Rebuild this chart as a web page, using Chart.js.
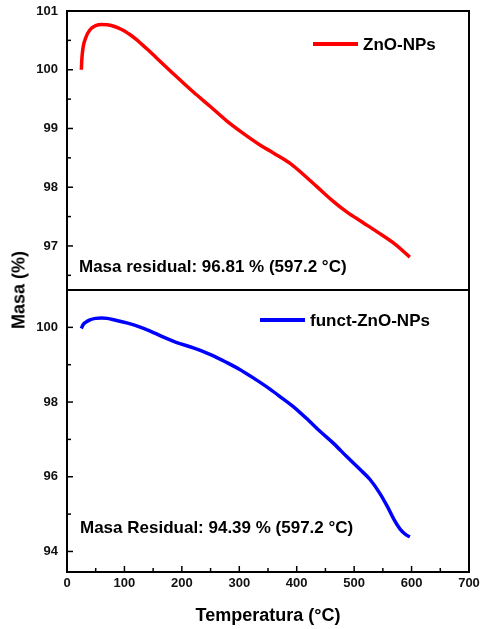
<!DOCTYPE html>
<html>
<head>
  <title>TGA ZnO-NPs</title>
  <script src="https://cdn.jsdelivr.net/npm/chart.js"></script>
  <style>
    body { margin: 0; background: #fff; }
    #wrap { position: relative; width: 481px; height: 629px; }
    canvas { position: absolute; left: 0; }
    #top { top: 0; }
    #bottom { top: 290px; }
    #ytitle {
      position: absolute; left: 19px; top: 290px;
      transform: translate(-50%, -50%) rotate(-90deg);
      font: bold 18px "Liberation Sans", Arial, sans-serif;
      white-space: nowrap; color: #000;
    }
  </style>
</head>
<body>
<div id="wrap">
  <canvas id="top" width="481" height="290"></canvas>
  <canvas id="bottom" width="481" height="339"></canvas>
  <div id="ytitle">Masa (%)</div>
</div>

<script>
  // ZnO-NPs (panel de arriba)
  const tempZnO = [25, 26, 28, 32, 40, 50, 60, 70, 80, 90, 100, 110, 120, 130, 140, 155, 180, 220, 250, 278, 305, 336, 360, 388, 410, 435, 460, 487, 515, 540, 570, 597];
  const masaZnO = [100.0, 100.2, 100.38, 100.53, 100.68, 100.75, 100.77, 100.765, 100.745, 100.71, 100.66, 100.595, 100.52, 100.435, 100.35, 100.21, 99.98, 99.62, 99.37, 99.13, 98.93, 98.72, 98.58, 98.41, 98.23, 98.01, 97.79, 97.58, 97.4, 97.24, 97.04, 96.81];

  // funct-ZnO-NPs (panel de abajo)
  const tempFunct = [25, 28, 33, 40, 50, 60, 70, 85, 104, 125, 145, 165, 190, 220, 250, 278, 300, 325, 354, 375, 394, 420, 441, 465, 487, 510, 528, 545, 558, 570, 580, 590, 597];
  const masaFunct = [99.97, 100.07, 100.14, 100.2, 100.24, 100.25, 100.24, 100.19, 100.12, 100.02, 99.9, 99.76, 99.6, 99.45, 99.27, 99.06, 98.88, 98.64, 98.34, 98.1, 97.88, 97.52, 97.21, 96.88, 96.54, 96.2, 95.92, 95.55, 95.2, 94.84, 94.6, 94.45, 94.39];

  const xTicks = [0, 100, 200, 300, 400, 500, 600, 700];
  const xMinor = [50, 150, 250, 350, 450, 550, 650];
  const yTicksTop = [97, 98, 99, 100, 101];
  const yMinorTop = [96.5, 97.5, 98.5, 99.5, 100.5];
  const yTicksBottom = [94, 96, 98, 100];
  const yMinorBottom = [95, 97, 99];

  Chart.defaults.font.family = '"Liberation Sans", Arial, sans-serif';
  Chart.defaults.color = '#000';

  const toPoints = (xs, ys) => xs.map((x, i) => ({ x: x, y: ys[i] }));

  function tickMarks(ctx, scale, values, len, area, horizontal) {
    values.forEach(v => {
      const p = scale.getPixelForValue(v);
      ctx.beginPath();
      if (horizontal) {
        ctx.moveTo(p, area.bottom);
        ctx.lineTo(p, area.bottom - len);
      } else {
        ctx.moveTo(area.left, p);
        ctx.lineTo(area.left + len, p);
      }
      ctx.stroke();
    });
  }

  // y axis: fixed width, and no extra vertical room for the labels
  function fitY(s) {
    s.width = 67;
    s.paddingTop = 0;
    s.paddingBottom = 0;
  }

  // marco, marcas hacia dentro, leyenda y texto de masa residual
  const framePlugin = {
    id: 'frame',
    afterDraw(chart, args, opts) {
      const ctx = chart.ctx;
      const a = chart.chartArea;
      ctx.save();
      ctx.strokeStyle = '#000';
      ctx.lineWidth = 2;
      ctx.strokeRect(a.left, a.top, a.right - a.left, a.bottom - a.top);

      ctx.lineWidth = 1.5;
      tickMarks(ctx, chart.scales.y, opts.yMajor, 6, a, false);
      tickMarks(ctx, chart.scales.y, opts.yMinor, 4, a, false);
      if (opts.xTicks) {
        tickMarks(ctx, chart.scales.x, xTicks, 6, a, true);
        tickMarks(ctx, chart.scales.x, xMinor, 4, a, true);
      }

      const ds = chart.data.datasets[0];
      ctx.strokeStyle = ds.borderColor;
      ctx.lineWidth = 4;
      ctx.beginPath();
      ctx.moveTo(opts.legendX, opts.legendY);
      ctx.lineTo(opts.legendX + 45, opts.legendY);
      ctx.stroke();

      ctx.fillStyle = '#000';
      ctx.font = 'bold 17px "Liberation Sans", Arial, sans-serif';
      ctx.textBaseline = 'middle';
      ctx.textAlign = 'left';
      ctx.fillText(ds.label, opts.legendX + 50, opts.legendY + 1);
      ctx.fillText(opts.note, opts.noteX, opts.noteY);
      ctx.restore();
    }
  };

  const tickFont = { size: 13, weight: 'bold' };

  new Chart(document.getElementById('top'), {
    type: 'line',
    data: {
      datasets: [{
        label: 'ZnO-NPs',
        data: toPoints(tempZnO, masaZnO),
        borderColor: '#ff0000',
        borderWidth: 3.5,
        pointRadius: 0,
        cubicInterpolationMode: 'monotone',
        fill: false
      }]
    },
    options: {
      responsive: false,
      animation: false,
      layout: { padding: { top: 11, right: 12, bottom: 0, left: 0 } },
      plugins: {
        legend: { display: false },
        tooltip: { enabled: false },
        frame: {
          yMajor: yTicksTop, yMinor: yMinorTop, xTicks: false,
          legendX: 313, legendY: 44,
          note: 'Masa residual: 96.81 % (597.2 °C)', noteX: 79, noteY: 267
        }
      },
      scales: {
        x: { type: 'linear', min: 0, max: 700, display: false },
        y: {
          min: 96.25, max: 101,
          afterBuildTicks: s => { s.ticks = yTicksTop.map(v => ({ value: v })); },
          afterFit: fitY,
          grid: { display: false, drawTicks: false },
          border: { display: false },
          ticks: { padding: 9, font: tickFont, color: '#111' }
        }
      }
    },
    plugins: [framePlugin]
  });

  new Chart(document.getElementById('bottom'), {
    type: 'line',
    data: {
      datasets: [{
        label: 'funct-ZnO-NPs',
        data: toPoints(tempFunct, masaFunct),
        borderColor: '#0000ff',
        borderWidth: 3.5,
        pointRadius: 0,
        cubicInterpolationMode: 'monotone',
        fill: false
      }]
    },
    options: {
      responsive: false,
      animation: false,
      layout: { padding: { top: 0, right: 12, bottom: 0, left: 0 } },
      plugins: {
        legend: { display: false },
        tooltip: { enabled: false },
        frame: {
          yMajor: yTicksBottom, yMinor: yMinorBottom, xTicks: true,
          legendX: 260, legendY: 30,
          note: 'Masa Residual: 94.39 % (597.2 °C)', noteX: 80, noteY: 238
        }
      },
      scales: {
        x: {
          type: 'linear', min: 0, max: 700,
          afterBuildTicks: s => { s.ticks = xTicks.map(v => ({ value: v })); },
          afterFit: s => { s.height = 57; s.paddingLeft = 0; s.paddingRight = 0; },
          grid: { display: false, drawTicks: false },
          border: { display: false },
          ticks: { padding: 4, font: tickFont, color: '#111', maxRotation: 0 },
          title: {
            display: true,
            text: 'Temperatura (°C)',
            font: { size: 18, weight: 'bold' },
            color: '#000',
            padding: { top: 0, bottom: 2 }
          }
        },
        y: {
          min: 93.45, max: 101,
          afterBuildTicks: s => { s.ticks = yTicksBottom.map(v => ({ value: v })); },
          afterFit: fitY,
          grid: { display: false, drawTicks: false },
          border: { display: false },
          ticks: { padding: 9, font: tickFont, color: '#111' }
        }
      }
    },
    plugins: [framePlugin]
  });
</script>
</body>
</html>
